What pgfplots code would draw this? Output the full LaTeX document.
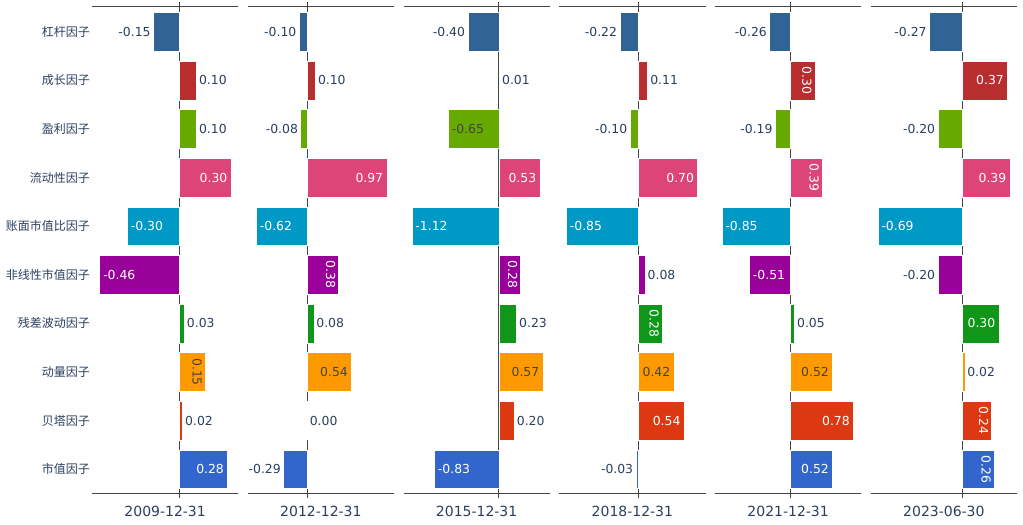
\documentclass[border=0pt]{standalone}
\usepackage{pgfplots}
\pgfplotsset{compat=1.18}
\usepackage{fontspec}
\setmainfont{DejaVu Sans}
\newfontfamily\cjk{Noto Sans CJK SC}

\definecolor{labc}{HTML}{2A3F5F}
\definecolor{axc}{HTML}{444444}
% one colour per factor, bottom (0) to top (9)
\definecolor{c0}{HTML}{3366CC}
\definecolor{c1}{HTML}{DC3912}
\definecolor{c2}{HTML}{FF9900}
\definecolor{c3}{HTML}{109618}
\definecolor{c4}{HTML}{990099}
\definecolor{c5}{HTML}{0099C6}
\definecolor{c6}{HTML}{DD4477}
\definecolor{c7}{HTML}{66AA00}
\definecolor{c8}{HTML}{B82E2E}
\definecolor{c9}{HTML}{316395}

\newcommand\vfont{\fontsize{12.4bp}{14bp}\selectfont}

% label placement: outside / inside white / inside dark / rotated
\tikzset{
  lo/.style={anchor=west, text=labc, inner xsep=2.5bp},
  lon/.style={anchor=east, text=labc, inner xsep=2.5bp},
  liw/.style={anchor=east, text=white, inner xsep=3.5bp},
  liwn/.style={anchor=west, text=white, inner xsep=3.5bp},
  lid/.style={anchor=east, text=axc, inner xsep=3.5bp},
  lidn/.style={anchor=west, text=axc, inner xsep=3.5bp},
  lrw/.style={rotate=-90, anchor=north, text=white, inner ysep=3bp},
  lrd/.style={rotate=-90, anchor=north, text=axc, inner ysep=3bp},
}

% value, row, colour, label style
\newcommand\hb[4]{%
  \addplot[xbar, bar shift=0pt, bar width=0.8, fill=#3, draw=white, line width=0.3bp,
    nodes near coords, point meta=explicit symbolic,
    every node near coord/.style={font=\vfont, #4}]
    coordinates {(#1,#2) [#1]};}

% zero line, under the bars
\newcommand\zl{\draw[axc, line width=1bp] (axis cs:0,-0.5) -- (axis cs:0,9.5);}

\pgfplotsset{
  panel/.style n args={4}{
    at={(#1bp,31.5bp)}, anchor=south west,
    scale only axis, width=146.25bp, height=486bp,
    xmin=#2, xmax=#3, ymin=-0.5, ymax=9.5,
    clip=false,
    axis line style={draw=none},
    xtick={0}, xticklabels={},
    tick align=outside, major tick length=5bp,
    xtick style={axc, line width=1bp},
    ytick=\empty, ytick style={draw=none},
    execute at end axis={
      \draw[axc, line width=1bp] (rel axis cs:0,0) -- (rel axis cs:1,0);
      \draw[axc, line width=1bp] ([yshift=1.2bp]rel axis cs:0,1) -- ([yshift=1.2bp]rel axis cs:1,1);
      \node[text=labc, font=\fontsize{14bp}{16bp}\selectfont]
        at (rel axis cs:0.5,0) [yshift=-18bp] {#4};
    },
  },
}

\begin{document}
\begin{tikzpicture}
\path[use as bounding box] (0,0) rectangle (1023bp,525bp);

\begin{axis}[panel={92}{-0.504}{0.342}{2009-12-31},
  ytick={0,...,9},
  yticklabels={市值因子,贝塔因子,动量因子,残差波动因子,非线性市值因子,账面市值比因子,流动性因子,盈利因子,成长因子,杠杆因子},
  yticklabel style={font=\cjk\fontsize{12bp}{14bp}\selectfont, text=labc, inner sep=0pt, xshift=3bp}]
\zl
\hb{-0.15}{9}{c9}{lon}
\hb{0.10}{8}{c8}{lo}
\hb{0.10}{7}{c7}{lo}
\hb{0.30}{6}{c6}{liw}
\hb{-0.30}{5}{c5}{liwn}
\hb{-0.46}{4}{c4}{liwn}
\hb{0.03}{3}{c3}{lo}
\hb{0.15}{2}{c2}{lrd}
\hb{0.02}{1}{c1}{lo}
\hb{0.28}{0}{c0}{liw}
\end{axis}

\begin{axis}[panel={247.75}{-0.724}{1.058}{2012-12-31}]
\zl
\hb{-0.10}{9}{c9}{lon}
\hb{0.10}{8}{c8}{lo}
\hb{-0.08}{7}{c7}{lon}
\hb{0.97}{6}{c6}{liw}
\hb{-0.62}{5}{c5}{liwn}
\hb{0.38}{4}{c4}{lrw}
\hb{0.08}{3}{c3}{lo}
\hb{0.54}{2}{c2}{lid}
\hb{0.00}{1}{c1}{lo}
\hb{-0.29}{0}{c0}{lon}
\end{axis}

\begin{axis}[panel={403.5}{-1.227}{0.658}{2015-12-31}]
\zl
\hb{-0.40}{9}{c9}{lon}
\hb{0.01}{8}{c8}{lo}
\hb{-0.65}{7}{c7}{lidn}
\hb{0.53}{6}{c6}{liw}
\hb{-1.12}{5}{c5}{liwn}
\hb{0.28}{4}{c4}{lrw}
\hb{0.23}{3}{c3}{lo}
\hb{0.57}{2}{c2}{lid}
\hb{0.20}{1}{c1}{lo}
\hb{-0.83}{0}{c0}{liwn}
\end{axis}

\begin{axis}[panel={559.25}{-0.933}{0.793}{2018-12-31}]
\zl
\hb{-0.22}{9}{c9}{lon}
\hb{0.11}{8}{c8}{lo}
\hb{-0.10}{7}{c7}{lon}
\hb{0.70}{6}{c6}{liw}
\hb{-0.85}{5}{c5}{liwn}
\hb{0.08}{4}{c4}{lo}
\hb{0.28}{3}{c3}{lrw}
\hb{0.42}{2}{c2}{lid}
\hb{0.54}{1}{c1}{liw}
\hb{-0.03}{0}{c0}{lon}
\end{axis}

\begin{axis}[panel={715}{-0.935}{0.877}{2021-12-31}]
\zl
\hb{-0.26}{9}{c9}{lon}
\hb{0.30}{8}{c8}{lrw}
\hb{-0.19}{7}{c7}{lon}
\hb{0.39}{6}{c6}{lrw}
\hb{-0.85}{5}{c5}{liwn}
\hb{-0.51}{4}{c4}{liwn}
\hb{0.05}{3}{c3}{lo}
\hb{0.52}{2}{c2}{lid}
\hb{0.78}{1}{c1}{liw}
\hb{0.52}{0}{c0}{liw}
\end{axis}

\begin{axis}[panel={870.75}{-0.748}{0.448}{2023-06-30}]
\zl
\hb{-0.27}{9}{c9}{lon}
\hb{0.37}{8}{c8}{liw}
\hb{-0.20}{7}{c7}{lon}
\hb{0.39}{6}{c6}{liw}
\hb{-0.69}{5}{c5}{liwn}
\hb{-0.20}{4}{c4}{lon}
\hb{0.30}{3}{c3}{liw}
\hb{0.02}{2}{c2}{lo}
\hb{0.24}{1}{c1}{lrw}
\hb{0.26}{0}{c0}{lrw}
\end{axis}
\end{tikzpicture}
\end{document}
